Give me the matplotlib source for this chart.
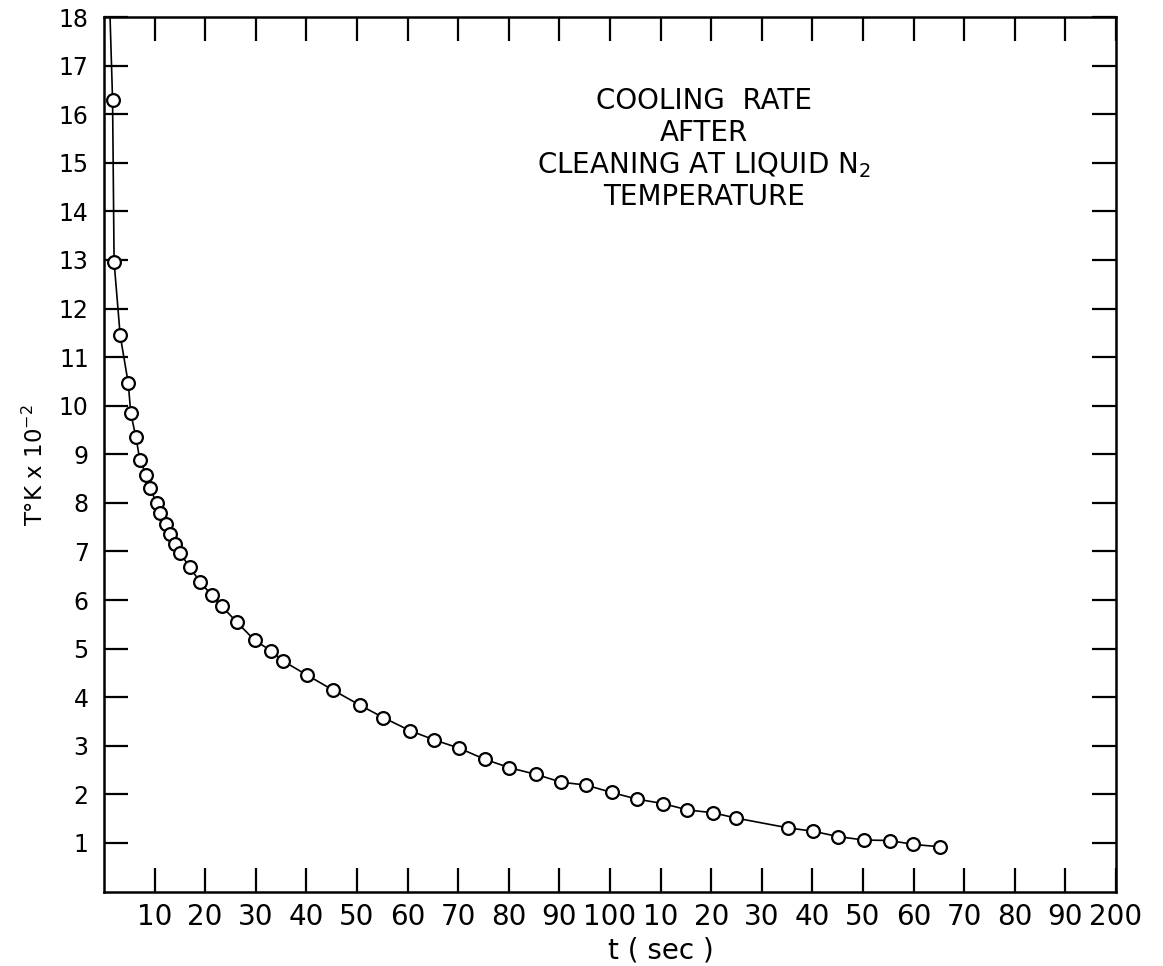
import matplotlib
matplotlib.use("Agg")
from matplotlib import pyplot as plt

# readings: time in seconds, temperature in units of 100 K
t_sec = [1.7, 2.0, 3.2, 4.8, 5.3, 6.3, 7.1, 8.4, 9.1, 10.4, 11.1, 12.3, 13.0,
         14.0, 15.0, 17.0, 19.0, 21.3, 23.3, 26.2, 29.8, 33.1, 35.3, 40.2,
         45.2, 50.5, 55.2, 60.5, 65.3, 70.2, 75.3, 80.1, 85.4, 90.4, 95.3,
         100.3, 105.4, 110.5, 115.3, 120.4, 125.0, 135.2, 140.2, 145.1,
         150.2, 155.3, 159.9, 165.3]
temp = [16.29, 12.96, 11.45, 10.46, 9.84, 9.36, 8.88, 8.57, 8.30, 8.0, 7.79,
        7.56, 7.36, 7.16, 6.97, 6.67, 6.37, 6.10, 5.87, 5.55, 5.17, 4.95,
        4.75, 4.45, 4.15, 3.84, 3.58, 3.31, 3.12, 2.95, 2.72, 2.55, 2.41,
        2.25, 2.19, 2.04, 1.90, 1.81, 1.68, 1.62, 1.51, 1.31, 1.24, 1.13,
        1.06, 1.05, 0.97, 0.92]

# the drawn curve runs on above the first point, up to the top frame
head_t = [1.2]
head_temp = [18.0]

x_ticks = list(range(10, 201, 10))
x_labels = ["10", "20", "30", "40", "50", "60", "70", "80", "90", "100",
            "10", "20", "30", "40", "50", "60", "70", "80", "90", "200"]
y_ticks = list(range(1, 19))

note = "COOLING  RATE\nAFTER\nCLEANING AT LIQUID N$_2$\nTEMPERATURE"

fig = plt.figure(figsize=(11.63, 9.66), dpi=100)
ax = fig.add_axes([0.0894, 0.0771, 0.8702, 0.9053])

ax.plot(head_t + t_sec, head_temp + temp, color="black", lw=1.2)
ax.plot(t_sec, temp, "o", ms=9.2, mfc="white", mec="black", mew=1.6)

ax.set_xlim(0, 200)
ax.set_ylim(0, 18)
ax.set_xticks(x_ticks)
ax.set_xticklabels(x_labels, fontsize=20)
ax.set_yticks(y_ticks)
ax.set_yticklabels([str(v) for v in y_ticks], fontsize=17)

ax.tick_params(direction="in", top=True, right=True, length=17, width=1.6)
ax.tick_params(axis="x", pad=8)
ax.tick_params(axis="y", pad=11)
for s in ax.spines.values():
    s.set_linewidth(1.8)

ax.set_xlabel("t ( sec )", fontsize=20)
ax.xaxis.set_label_coords(0.55, -0.052, transform=ax.transAxes)
ax.xaxis.label.set_va("top")

fig.text(35 / 1163, 1 - 465 / 966, "T°K x 10$^{-2}$", rotation=90,
         ha="center", va="center", fontsize=16.5)

ax.text(118.5, 16.55, note, ha="center", va="top", fontsize=20,
        linespacing=1.15)

fig.savefig("out.png", dpi=100)
